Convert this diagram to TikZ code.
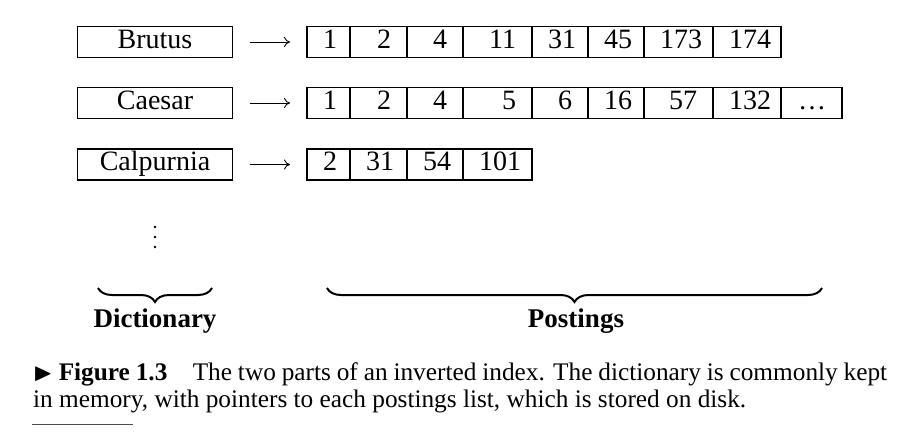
\documentclass[tikz,border=0pt]{standalone}
\usepackage{amssymb}
\usepackage{fontspec}
\setmainfont{Liberation Serif}
\usetikzlibrary{arrows.meta,decorations.pathreplacing}
\hfuzz=100pt
\hbadness=10000
\begin{document}
\begin{tikzpicture}[x=1pt,y=-1pt]
\tikzset{
 fnt/.style={font=\fontsize{28}{32}\selectfont},
 dict/.style={fnt, draw, line width=1.1pt, minimum width=155pt, inner xsep=0pt, inner ysep=4.5pt, text height=17pt, text depth=5pt, outer sep=0pt},
 cell/.style={fnt, draw, line width=1.1pt, inner xsep=16pt, inner ysep=4.5pt, text height=17pt, text depth=5pt, align=right, outer sep=0pt, anchor=west},
 arr/.style={-{Computer Modern Rightarrow[length=6pt,width=10pt]}, line width=0.9pt, shorten <=17pt, shorten >=17pt},
 brc/.style={decorate, decoration={brace, mirror, amplitude=14pt}, line width=2pt},
 lbl/.style={font=\bfseries\fontsize{27}{31}\selectfont, anchor=base, inner sep=0pt},
 captxt/.style={font=\fontsize{25.3}{29}\selectfont, anchor=base west, inner sep=0pt},
 dotm/.style={circle, fill, inner sep=0pt, minimum size=2.8pt},
}
\useasboundingbox (0,0) rectangle (921,432);
% dictionary
\node[dict] (brutus) at (155,42) {Brutus};
\node[dict] (caesar) at (155,103) {Caesar};
\node[dict] (calpurnia) at (155,164.5) {Calpurnia};
% postings
\foreach \x/\w/\n [count=\i] in {307/43/1, 350/57/2, 407/56/4, 463/69/11, 532/56/31, 588/56/45, 644/69/173, 713/68/174} {
  \pgfmathsetmacro\tw{\w-32}
  \node[cell, text width=\tw pt] (b\i) at (\x,42) {\n};
}
\foreach \x/\w/\n [count=\i] in {307/43/1, 350/57/2, 407/56/4, 463/69/5, 532/56/6, 588/56/16, 644/69/57, 713/68/132, 781/61/\dots} {
  \pgfmathsetmacro\tw{\w-32}
  \node[cell, text width=\tw pt] (c\i) at (\x,103) {\n};
}
\foreach \x/\w/\n [count=\i] in {307/43/2, 350/57/31, 407/56/54, 463/69/101} {
  \pgfmathsetmacro\tw{\w-32}
  \node[cell, text width=\tw pt] (p\i) at (\x,164.5) {\n};
}
% pointers
\draw[arr] (brutus) -- (b1);
\draw[arr] (caesar) -- (c1);
\draw[arr] (calpurnia) -- (p1);
% more terms (vertical ellipsis)
\node[dotm] (vd1) at (155,227) {};
\node[dotm] (vd2) at (155,237) {};
\node[dotm] (vd3) at (155,247) {};
% braces
\coordinate (dl) at (98,288);
\coordinate (dr) at (212,288);
\coordinate (pl) at (327,288);
\coordinate (pr) at (822,288);
\draw[brc] (dl) -- (dr);
\draw[brc] (pl) -- (pr);
\node[lbl] (dictlbl) at (155,327) {Dictionary};
\node[lbl] (postlbl) at (576,327) {Postings};
% caption
\node[captxt] (cap1) at (33,380) {\makebox[854pt][s]{$\blacktriangleright$ \textbf{Figure 1.3}\quad The two parts of an inverted index. The dictionary is commonly kept}};
\node[captxt] (cap2) at (33,407) {in memory, with pointers to each postings list, which is stored on disk.};
\draw[line width=1pt, black!70] (32,424) -- (133,424);
\end{tikzpicture}
\end{document}
